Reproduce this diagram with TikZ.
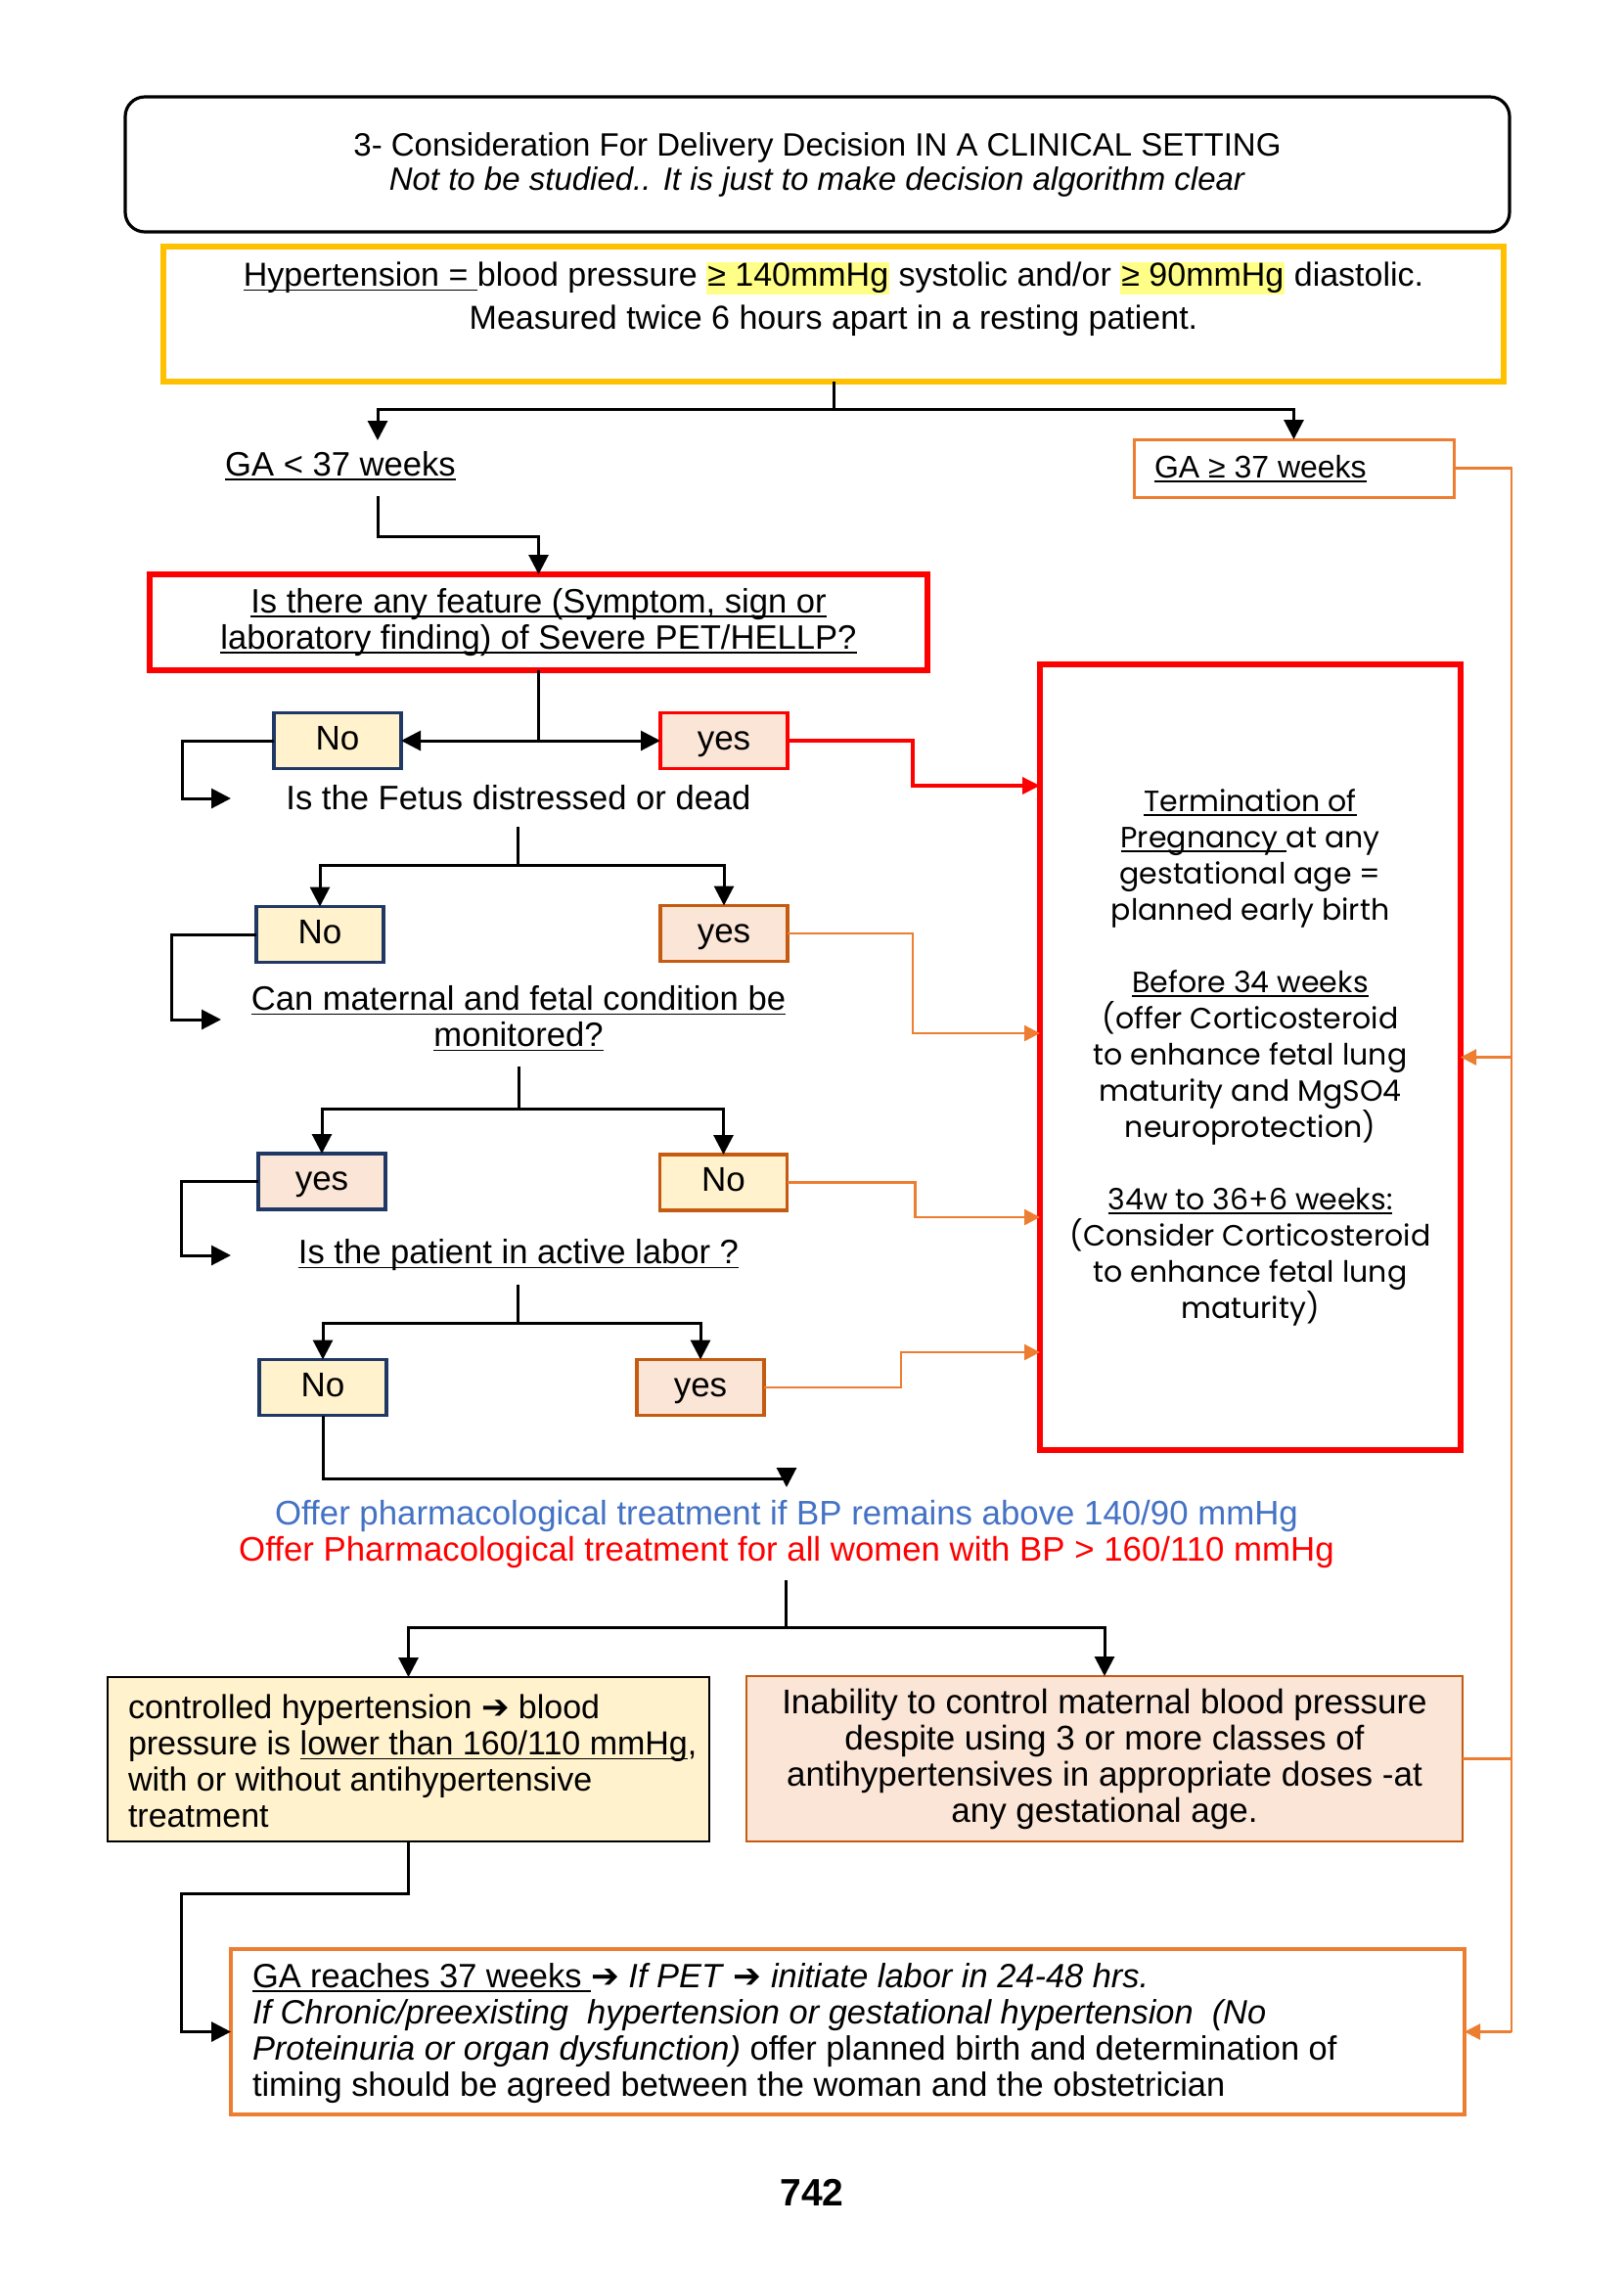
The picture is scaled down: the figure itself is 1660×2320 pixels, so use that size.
\documentclass[tikz,border=0pt]{standalone}
\usepackage{fontspec}
\setmainfont{Liberation Sans}
\newfontfamily\popp{Poppins}
\newfontfamily\dejavu{DejaVu Sans}
\usetikzlibrary{arrows.meta,calc}
\definecolor{ored}{HTML}{FF0000}
\definecolor{oorange}{HTML}{ED7D31}
\definecolor{obrown}{HTML}{C55A11}
\definecolor{onavy}{HTML}{1F3864}
\definecolor{ogold}{HTML}{FFC000}
\definecolor{fyellow}{HTML}{FFF2CC}
\definecolor{fpink}{HTML}{FBE5D6}
\definecolor{oblue}{HTML}{4472C4}
\definecolor{hlyellow}{HTML}{FFFF88}
\newcommand\harr{{\dejavu ➔}}
\newcommand\hlt[1]{{\setlength{\fboxsep}{0.5pt}\colorbox{hlyellow}{#1}}}
\newsavebox\ulbox
\newcommand\myul[1]{\sbox\ulbox{#1}\rlap{\rule[-2.2pt]{\wd\ulbox}{0.7pt}}\usebox\ulbox}
\begin{document}
\begin{tikzpicture}[x=0.5pt,y=-0.5pt,
  every node/.style={inner sep=0pt, outer sep=0pt},
  conn/.style={line width=1.5pt, -{Triangle[length=10pt,width=10pt]}},
  bline/.style={line width=1.5pt},
  rconn/.style={ored, line width=1.8pt, -{Triangle[length=9pt,width=8.5pt]}},
  oconn/.style={oorange, line width=1.2pt, -{Triangle[length=8pt,width=8pt]}},
  oline/.style={oorange, line width=1.2pt},
  yn/.style={draw, line width=1.6pt, minimum width=65pt, minimum height=28.5pt, text height=11pt, text depth=2pt, font=\fontsize{17.5}{18.5}\selectfont},
  nofill/.style={fill=fyellow},
  yesfill/.style={fill=fpink},
  qtext/.style={align=center, font=\fontsize{17.3}{18.5}\selectfont},
  btext/.style={font=\fontsize{17.2}{18.5}\selectfont},
]
\fill[white] (0,0) rectangle (1660,2320);
\useasboundingbox (0,0) rectangle (1660,2320);

% header
\node[draw, line width=1.6pt, rounded corners=10pt, minimum width=707.5pt, minimum height=69pt, align=center, font=\fontsize{16.5}{17.5}\selectfont] (title) at (835.5,168) {3- Consideration For Delivery Decision IN A CLINICAL SETTING\\ \textit{Not to be studied.. It is just to make decision algorithm clear}};

\node[draw=ogold, line width=3pt, minimum width=685pt, minimum height=69pt] (hyp) at (852,321) {};
\node[align=center, font=\fontsize{17}{22}\selectfont] (hypt) at (852,306) {\myul{Hypertension = }blood pressure \hlt{≥ 140mmHg} systolic and/or \hlt{≥ 90mmHg} diastolic.\\ Measured twice 6 hours apart in a resting patient.};

\node[qtext] (ga1) at (348,476) {\myul{GA < 37 weeks}};
\node[draw=oorange, line width=1.5pt, minimum width=163.5pt, minimum height=29.5pt] (ga2) at (1322.5,478.5) {};
\node[anchor=west, font=\fontsize{16}{18}\selectfont] (ga2t) at (1180,479) {\myul{GA ≥ 37 weeks}};

\node[draw=ored, line width=3pt, minimum width=397.5pt, minimum height=49pt, qtext] (q1) at (550.5,636) {\myul{Is there any feature (Symptom, sign or}\\\myul{laboratory finding) of Severe PET/HELLP?}};

% decision chain
\node[yn, nofill, draw=onavy] (no1) at (345,757) {No};
\node[yn, yesfill, draw=ored] (yes1) at (740,757) {yes};
\node[qtext] (fetus) at (530,815) {Is the Fetus distressed or dead};
\node[yn, nofill, draw=onavy] (no2) at (327,955) {No};
\node[yn, yesfill, draw=obrown] (yes2) at (740,954) {yes};
\node[qtext] (monit) at (530,1041) {\myul{Can maternal and fetal condition be}\\\myul{monitored?}};
\node[yn, yesfill, draw=onavy] (yes3) at (329,1207.5) {yes};
\node[yn, nofill, draw=obrown] (no3) at (739.5,1208.5) {No};
\node[qtext] (labor) at (530,1283) {\myul{Is the patient in active labor ?}};
\node[yn, nofill, draw=onavy] (no4) at (330,1418) {No};
\node[yn, yesfill, draw=obrown] (yes4) at (716,1418) {yes};

% big red box
\node[draw=ored, line width=3pt, minimum width=215pt, minimum height=401.5pt, align=center, font=\popp\fontsize{15}{18.5}\selectfont] (big) at (1278,1080.5) {\myul{Termination of}\\\myul{Pregnancy }at any\\gestational age =\\planned early birth\\[18.5pt]\myul{Before 34 weeks}\\(offer Corticosteroid\\to enhance fetal lung\\maturity and MgSO4\\neuroprotection)\\[18.5pt]\myul{34w to 36+6 weeks:}\\(Consider Corticosteroid\\to enhance fetal lung\\maturity)};

% treatment
\node[align=center, font=\fontsize{17.4}{18.5}\selectfont] (offer) at (804,1568) {\textcolor{oblue}{Offer pharmacological treatment if BP remains above 140/90 mmHg}\\\textcolor{ored}{Offer Pharmacological treatment for all women with BP > 160/110 mmHg}};

\node[draw=black, line width=1.4pt, fill=fyellow, minimum width=307.5pt, minimum height=84pt] (ctrl) at (417.5,1798) {};
\node[anchor=west, align=left, font=\fontsize{17}{18.5}\selectfont] (ctrlt) at (131,1800) {controlled hypertension \harr\ blood\\ pressure is \myul{lower than 160/110 mmHg},\\ with or without antihypertensive\\ treatment};

\node[draw=obrown, line width=1.4pt, fill=fpink, minimum width=366pt, minimum height=84.5pt, align=center, font=\fontsize{17.5}{18.5}\selectfont] (unctrl) at (1129,1797.5) {Inability to control maternal blood pressure\\ despite using 3 or more classes of\\ antihypertensives in appropriate doses -at\\ any gestational age.};

\node[draw=oorange, line width=1.6pt, minimum width=630.5pt, minimum height=84.5pt] (final) at (866.5,2076.5) {};
\node[anchor=west, align=left, btext] (finalt) at (258,2078) {\myul{GA reaches 37 weeks }\harr\ \textit{If PET} \harr\ \textit{initiate labor in 24-48 hrs.}\\ \textit{If Chronic/preexisting\ \ hypertension or gestational hypertension\ \ (No}\\ \textit{Proteinuria or organ dysfunction)} offer planned birth and determination of\\ timing should be agreed between the woman and the obstetrician};

\node[font=\bfseries\fontsize{19.5}{22}\selectfont] (pnum) at (830,2241) {742};

% connectors
\coordinate (j1) at (852,418);
\coordinate (ga1in) at (386,450);
\coordinate (ga1out) at (386,507);
\coordinate (j2) at (550.5,548);
\draw[bline] (hyp.south) -- (j1);
\draw[conn] (j1) -| (ga1in);
\draw[conn] (j1) -| (ga2.north);
\draw[conn] (ga1out) |- (j2) -- (q1.north);

\coordinate (j3) at (550.5,757);
\draw[bline] (q1.south) -- (j3);
\draw[conn] (j3) -- (no1.east);
\draw[conn] (j3) -- (yes1.west);
\coordinate (t1) at (236,816);
\draw[conn] (no1.west) -- ++(-94,0) |- (t1);
\coordinate (b1) at (1063,803);
\draw[rconn] (yes1.east) -- ++(128,0) |- (b1);

\coordinate (f1) at (529,845);
\coordinate (j5) at (529,884);
\draw[bline] (f1) -- (j5);
\draw[conn] (j5) -| (no2.north);
\draw[conn] (j5) -| (yes2.north);
\coordinate (t2) at (226,1042);
\draw[conn] (no2.west) -- ++(-87,0) |- (t2);
\coordinate (b2) at (1063,1056);
\draw[oconn] (yes2.east) -- ++(128,0) |- (b2);

\coordinate (m1) at (530,1090);
\coordinate (j7) at (530,1133);
\draw[bline] (m1) -- (j7);
\draw[conn] (j7) -| (yes3.north);
\draw[conn] (j7) -| (no3.north);
\coordinate (t3) at (236,1283);
\draw[conn] (yes3.west) -- ++(-79,0) |- (t3);
\coordinate (b3) at (1063,1244);
\draw[oconn] (no3.east) -- ++(131,0) |- (b3);

\coordinate (l1) at (529,1313);
\coordinate (j9) at (529,1352);
\draw[bline] (l1) -- (j9);
\draw[conn] (j9) -| (no4.north);
\draw[conn] (j9) -| (yes4.north);
\coordinate (b4) at (1063,1382);
\draw[oconn] (yes4.east) -- ++(140,0) |- (b4);
\coordinate (o1) at (804,1520);
\draw[conn] (no4.south) -- ++(0,65) -| (o1);

\coordinate (o2) at (803,1615);
\coordinate (j11) at (803,1663);
\draw[bline] (o2) -- (j11);
\draw[conn] (j11) -| (ctrl.north);
\draw[conn] (j11) -| (unctrl.north);
\coordinate (c1) at (185,1935);
\draw[conn] (ctrl.south) |- (c1) |- (final.west);

\coordinate (r1) at (1545,478.5);
\coordinate (r3) at (1545,2076.5);
\draw[oline] (ga2.east) -- (r1) -- (r3);
\draw[oconn] (r1 |- big.east) -- (big.east);
\draw[oconn] (r3) -- (final.east);
\draw[oline] (unctrl.east) -- (unctrl.east -| r1);
\end{tikzpicture}
\end{document}
